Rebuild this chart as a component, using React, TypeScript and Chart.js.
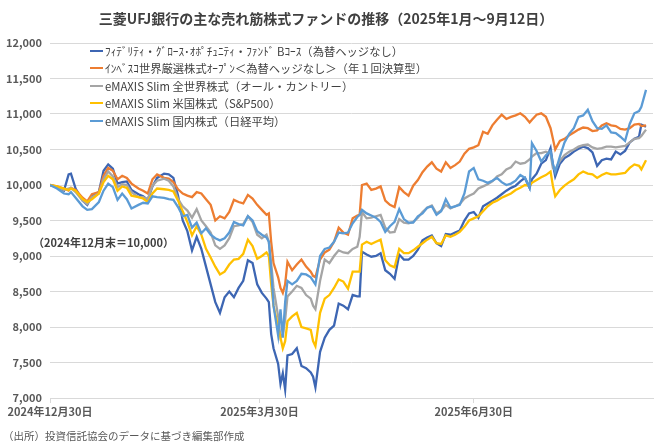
import { useEffect, useRef } from "react";
import { Chart, registerables } from "chart.js";

Chart.register(...registerables);

const FONT = '"Noto Sans CJK JP", "Noto Sans", sans-serif';

// Calendar days after 2024-12-30
const days = [
  0, 3, 6, 8, 9, 11, 14, 16, 18, 21,
  23, 25, 27, 29, 31, 33, 35, 38, 40, 42,
  44, 46, 49, 51, 53, 55, 57, 59, 61, 63,
  65, 67, 69, 71, 73, 75, 77, 79, 81, 83,
  85, 87, 89, 91, 93, 94, 95, 96, 98, 99,
  100, 101, 102, 104, 106, 108, 110, 112, 113, 114,
  116, 118, 120, 122, 124, 126, 128, 130, 132, 133,
  134, 136, 138, 140, 142, 144, 146, 148, 150, 152,
  154, 156, 158, 160, 162, 164, 166, 168, 170, 172,
  174, 176, 178, 180, 182, 184, 186, 188, 190, 192,
  194, 196, 198, 200, 202, 204, 206, 207, 209, 211,
  213, 215, 216, 217, 219, 221, 223, 225, 227, 229,
  231, 233, 235, 237, 239, 241, 243, 245, 247, 249,
  251, 253, 254, 256,
];

const fidelity = [
  10000, 9970, 9920, 10150, 10160, 9950, 9780, 9720, 9850, 9900,
  10200, 10290, 10230, 10020, 10040, 10050, 9930, 9870, 9840, 9790,
  9980, 10100, 10160, 10150, 10100, 9850, 9500, 9350, 9080, 9270,
  9100, 8850, 8600, 8350, 8200, 8420, 8500, 8420, 8550, 8650,
  8940, 8900, 8600, 8480, 8400, 8350, 7900, 7700, 7480, 7200,
  7350, 7120, 7600, 7620, 7700, 7450, 7420, 7360, 7300, 7150,
  7650, 7850, 7960, 8020, 8330, 8300, 8250, 8450, 8430, 8430,
  9060, 9020, 8990, 9000, 9040, 8800, 8750, 8680, 9020, 8950,
  8950, 9000, 9090, 9220, 9260, 9290, 9180, 9140, 9310, 9300,
  9330, 9360, 9500, 9600, 9620, 9540, 9700, 9740, 9780, 9820,
  9870, 9920, 9960, 9990, 10050, 10100, 9960, 10080, 10160, 10300,
  10350, 10520, 10290, 10120, 10300, 10380, 10420, 10470, 10510, 10540,
  10520, 10460, 10270, 10350, 10370, 10360, 10470, 10430, 10480, 10600,
  10650, 10680, 10850, 10820,
];

const invesco = [
  10000, 9980, 9950, 9920, 9960, 9930, 9820, 9770, 9870, 9900,
  10130, 10240, 10200, 10080, 10130, 10100, 10020, 9950, 9920, 9880,
  10080, 10150, 10100, 10090, 10040, 9940, 9880, 9850, 9830, 9900,
  9880, 9800, 9720, 9500, 9560, 9530, 9620, 9790, 9760, 9740,
  9860, 9810, 9720, 9650, 9580, 9600, 9200, 8900, 8700, 8550,
  8480, 8600, 8920, 8800, 8880, 8950, 8850, 8780, 8720, 8700,
  8950, 9050, 9090, 9200, 9400, 9330, 9300, 9530, 9570, 9580,
  10000, 10020, 9930, 9950, 9980, 9780, 9720, 9690, 9970, 9900,
  9850, 9990, 10070, 10180, 10260, 10320, 10230, 10190, 10320, 10240,
  10280, 10330, 10440, 10510, 10530, 10560, 10750, 10720, 10840, 10920,
  10990, 10930, 10960, 10980, 11010, 10960, 10880, 10920, 10990, 11010,
  10960, 10800, 10650, 10500, 10620, 10650, 10700, 10740, 10780, 10810,
  10800, 10760, 10770, 10840, 10870, 10840, 10830, 10790, 10780, 10800,
  10850, 10860, 10830, 10840,
];

const allCountry = [
  10000, 9970, 9930, 9950, 9960, 9900, 9780, 9730, 9830, 9880,
  10080, 10190, 10120, 9970, 10010, 10000, 9900, 9830, 9830, 9800,
  9990, 10060, 10090, 10060, 9980, 9800, 9700, 9640, 9540, 9660,
  9500, 9420, 9330, 9150, 9100, 9150, 9250, 9420, 9430, 9450,
  9560, 9480, 9300, 9250, 9300, 9200, 8900, 8550, 8150, 7850,
  7900, 8100, 8430, 8500, 8580, 8550, 8450, 8400, 8300, 8250,
  8650, 8950, 8900, 9000, 9080, 9050, 9040, 9100, 9130, 9270,
  9620, 9530, 9540, 9560, 9580, 9400, 9330, 9340, 9520, 9470,
  9460, 9480, 9540, 9620, 9680, 9710, 9600, 9640, 9720, 9670,
  9700, 9730, 9810, 9850, 9880, 9950, 9980, 10010, 10050, 10120,
  10150, 10220, 10250, 10330, 10300, 10310, 10360, 10400, 10450, 10450,
  10470, 10440, 10240, 10220, 10340, 10420, 10470, 10500, 10540, 10560,
  10570, 10530, 10510, 10520, 10540, 10540, 10530, 10540, 10550, 10600,
  10650, 10660, 10690, 10780,
];

const sp500 = [
  10000, 9980, 9950, 9930, 9950, 9920, 9800, 9760, 9800, 9880,
  10040, 10130, 10080, 9920, 9980, 9960, 9850, 9830, 9810, 9760,
  9880, 9950, 9940, 9930, 9910, 9780, 9630, 9480, 9290, 9420,
  9300, 9100, 8980, 8850, 8740, 8780, 8880, 8950, 8960, 9030,
  9230, 9140, 8960, 9000, 9050, 9000, 8600, 8300, 8000, 7850,
  7700, 7800, 8080, 8150, 8200, 8000, 7980, 7960, 7800, 7730,
  8200, 8400, 8450, 8550, 8670, 8640, 8540, 8780, 8780, 8780,
  9160, 9200, 9170, 9200, 9230, 8940, 8870, 8840, 9100, 9040,
  9040, 9080, 9130, 9180, 9230, 9270, 9180, 9170, 9290, 9270,
  9300, 9340, 9410, 9500, 9530, 9560, 9630, 9700, 9750, 9780,
  9820, 9850, 9880, 9930, 9960, 10000, 9990, 10030, 10070, 10110,
  10140, 10190, 9990, 9840, 9930, 9990, 10040, 10080, 10150, 10190,
  10160, 10150, 10100, 10140, 10170, 10150, 10150, 10160, 10170, 10240,
  10290, 10270, 10220, 10350,
];

const nikkei = [
  10000, 9950, 9880, 9870, 9900, 9820, 9700, 9650, 9660, 9760,
  9920, 10020, 9970, 9790, 9880, 9800, 9670, 9720, 9750, 9740,
  9840, 9830, 9820, 9800, 9790, 9690, 9560, 9580, 9400, 9470,
  9320, 9390, 9300, 9250, 9220, 9250, 9330, 9480, 9450, 9430,
  9560, 9500, 9350, 9300, 9260, 9200, 8800, 8300, 7880, 8250,
  7850, 8350, 8650, 8600, 8650, 8750, 8740, 8700, 8650, 8600,
  9000, 9100, 9120, 9200, 9330, 9320, 9330, 9460, 9550, 9580,
  9650, 9600, 9570, 9540, 9480, 9340, 9420, 9480, 9660, 9520,
  9470, 9470, 9560, 9600, 9680, 9700, 9580, 9630, 9800, 9680,
  9700, 9720, 9880, 10190, 10240, 10080, 10060, 10030, 10060, 10100,
  10040, 10000, 10020, 10060, 10140, 10100, 9960, 10590, 10480, 10330,
  10420, 10480, 10300, 10180, 10400, 10600, 10720, 10800, 10960, 10980,
  11060, 10900, 10800, 10790, 10840, 10740, 10730, 10680, 10620, 10860,
  11010, 11040, 11100, 11340,
];

const seriesNames = [
  "ﾌｨﾃﾞﾘﾃｨ・ｸﾞﾛｰｽ･ｵﾎﾟﾁｭﾆﾃｨ・ﾌｧﾝﾄﾞ Bｺｰｽ（為替ヘッジなし）",
  "ｲﾝﾍﾞｽｺ世界厳選株式ｵｰﾌﾟﾝ＜為替ヘッジなし＞（年１回決算型）",
  "eMAXIS Slim 全世界株式（オール・カントリー）",
  "eMAXIS Slim 米国株式（S&P500）",
  "eMAXIS Slim 国内株式（日経平均）",
];
const seriesColors = ["#3D66B3", "#ED7D31", "#A5A5A5", "#FFC000", "#5B9BD5"];

const xTickDays = [0, 90, 182];
const xTickLabels = ["2024年12月30日", "2025年3月30日", "2025年6月30日"];
const yMin = 7000;
const yMax = 12000;
const yStep = 500;

const titleText = "三菱UFJ銀行の主な売れ筋株式ファンドの推移（2025年1月～9月12日）";
const noteText = "（2024年12月末＝10,000）";
const sourceText = "（出所）投資信託協会のデータに基づき編集部作成";

export default function App() {
  const ref = useRef<HTMLCanvasElement>(null);

  useEffect(() => {
    const seriesValues = [fidelity, invesco, allCountry, sp500, nikkei];
    const chart = new Chart(ref.current!, {
      type: "line",
      data: {
        datasets: seriesValues.map((vals, i) => ({
          label: seriesNames[i],
          data: days.map((d, j) => ({ x: d, y: vals[j] })),
          borderColor: seriesColors[i],
          backgroundColor: seriesColors[i],
          borderWidth: 2.3,
          pointRadius: 0,
          tension: 0,
          fill: false,
          order: seriesValues.length - i,
        })),
      },
      options: {
        responsive: false,
        animation: false,
        events: [],
        layout: { padding: { top: 43, right: 7, left: 0, bottom: 0 } },
        plugins: {
          legend: { display: false },
          title: { display: false },
          tooltip: { enabled: false },
        },
        scales: {
          x: {
            type: "linear",
            min: 0,
            max: 259,
            afterBuildTicks: (s: any) => {
              s.ticks = xTickDays.map((v) => ({ value: v }));
            },
            afterFit: (s: any) => {
              s.height = 49;
            },
            ticks: {
              autoSkip: false,
              maxRotation: 0,
              minRotation: 0,
              padding: 2,
              color: "#595959",
              font: { family: FONT, size: 11, weight: "bold" },
              callback: (_v: any, i: number) => xTickLabels[i] ?? "",
            },
            grid: {
              drawOnChartArea: false,
              drawTicks: true,
              tickLength: 5,
              color: "#D9D9D9",
            },
            border: { display: true, color: "#D9D9D9" },
          },
          y: {
            min: yMin,
            max: yMax,
            afterFit: (s: any) => {
              s.width = 50;
            },
            ticks: {
              stepSize: yStep,
              padding: 8,
              color: "#595959",
              font: { family: FONT, size: 11, weight: "bold" },
              callback: (v: any) => Number(v).toLocaleString("en-US"),
            },
            grid: { color: "#D9D9D9", drawTicks: false },
            border: { display: false },
          },
        },
      },
    });
    return () => chart.destroy();
  }, []);

  return (
    <div
      style={{
        position: "absolute",
        left: 0,
        top: 0,
        width: 660,
        height: 447,
        background: "#ffffff",
        fontFamily: FONT,
        overflow: "hidden",
      }}
    >
      <canvas ref={ref} width={660} height={447} style={{ position: "absolute", left: 0, top: 0, width: 660, height: 447 }} />
      <div
        style={{
          position: "absolute",
          left: 0,
          top: 8,
          width: 652,
          textAlign: "center",
          fontSize: 14,
          lineHeight: "20px",
          fontWeight: 700,
          color: "#404040",
          whiteSpace: "nowrap",
        }}
      >
        {titleText}
      </div>
      <div style={{ position: "absolute", left: 90, top: 42, pointerEvents: "none" }}>
        {seriesNames.map((name, i) => (
          <div
            key={i}
            style={{
              display: "flex",
              alignItems: "center",
              height: 17.5,
              fontSize: 11.3,
              color: "#404040",
              whiteSpace: "nowrap",
            }}
          >
            <span style={{ display: "inline-block", width: 13, height: 2, background: seriesColors[i], marginRight: 2 }} />
            <span>{name}</span>
          </div>
        ))}
      </div>
      <div
        style={{
          position: "absolute",
          left: 33,
          top: 233,
          fontSize: 11,
          lineHeight: "18px",
          fontWeight: 700,
          color: "#404040",
          whiteSpace: "nowrap",
        }}
      >
        {noteText}
      </div>
      <div
        style={{
          position: "absolute",
          left: 3,
          top: 428,
          fontSize: 10.5,
          lineHeight: "16px",
          color: "#595959",
          whiteSpace: "nowrap",
        }}
      >
        {sourceText}
      </div>
    </div>
  );
}
